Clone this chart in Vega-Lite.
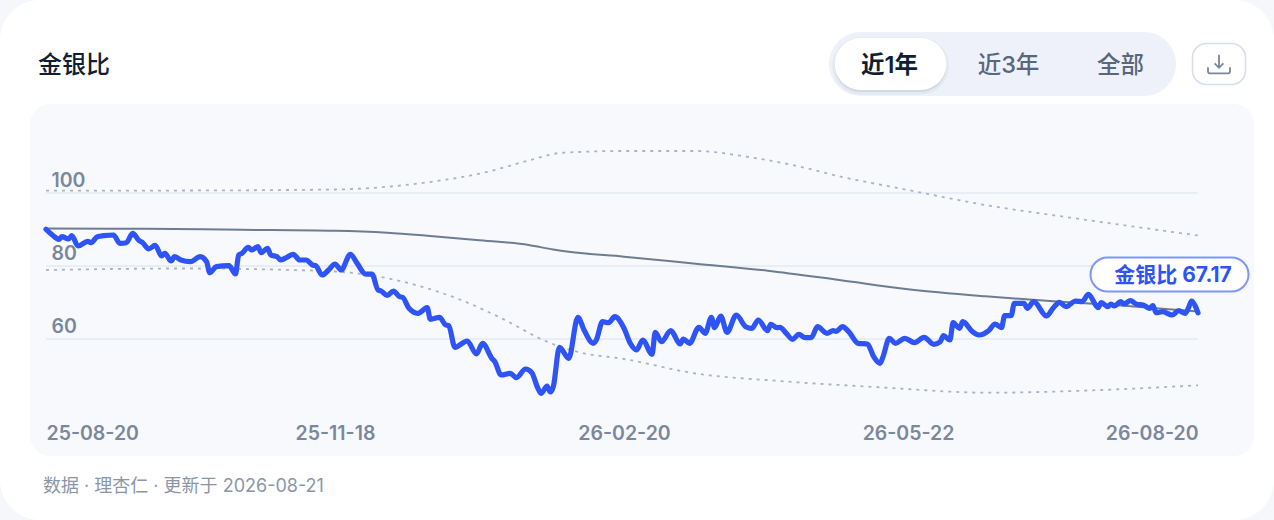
{
  "$schema": "https://vega.github.io/schema/vega-lite/v6.json",
  "width": 1274,
  "height": 520,
  "padding": 0,
  "autosize": {"type": "none"},
  "background": "#f5f7fb",
  "view": {"fill": "#ffffff", "stroke": null, "cornerRadius": 40},
  "config": {"font": "Inter, 'Noto Sans CJK SC'"},
  "datasets": {
    "tabs": [{"tab": "近1年", "active": true}, {"tab": "近3年", "active": false}, {"tab": "全部", "active": false}],
    "levels": [{"level": 100, "from": "2025/08/20", "to": "2026/08/20"}, {"level": 80, "from": "2025/08/20", "to": "2026/08/20"}, {"level": 60, "from": "2025/08/20", "to": "2026/08/20"}],
    "ratio": [
      {"date": "2025/08/20", "value": 90.05}, {"date": "2025/08/22", "value": 88.49}, {"date": "2025/08/24", "value": 87.32}, {"date": "2025/08/25", "value": 88.03},
      {"date": "2025/08/27", "value": 87.4}, {"date": "2025/08/28", "value": 88.3}, {"date": "2025/08/30", "value": 85.48}, {"date": "2025/09/02", "value": 86.77},
      {"date": "2025/09/03", "value": 86.38}, {"date": "2025/09/05", "value": 88.03}, {"date": "2025/09/07", "value": 88.3}, {"date": "2025/09/10", "value": 88.49},
      {"date": "2025/09/12", "value": 86.22}, {"date": "2025/09/14", "value": 86.38}, {"date": "2025/09/16", "value": 88.96}, {"date": "2025/09/18", "value": 86.93},
      {"date": "2025/09/19", "value": 86.49}, {"date": "2025/09/21", "value": 84.66}, {"date": "2025/09/23", "value": 85.67}, {"date": "2025/09/25", "value": 82.74},
      {"date": "2025/09/26", "value": 83.48}, {"date": "2025/09/28", "value": 81.37}, {"date": "2025/09/29", "value": 82.55}, {"date": "2025/10/01", "value": 81.64},
      {"date": "2025/10/04", "value": 81.18}, {"date": "2025/10/07", "value": 82.55}, {"date": "2025/10/09", "value": 81.18}, {"date": "2025/10/10", "value": 78.16},
      {"date": "2025/10/12", "value": 79.81}, {"date": "2025/10/16", "value": 80.08}, {"date": "2025/10/18", "value": 77.81}, {"date": "2025/10/19", "value": 83.01},
      {"date": "2025/10/20", "value": 83.48}, {"date": "2025/10/22", "value": 85.12}, {"date": "2025/10/23", "value": 84.38}, {"date": "2025/10/25", "value": 85.29},
      {"date": "2025/10/26", "value": 83.64}, {"date": "2025/10/28", "value": 84.85}, {"date": "2025/10/29", "value": 83.01}, {"date": "2025/10/31", "value": 82.55},
      {"date": "2025/11/01", "value": 81.64}, {"date": "2025/11/03", "value": 82.38}, {"date": "2025/11/05", "value": 83.21}, {"date": "2025/11/07", "value": 81.64},
      {"date": "2025/11/09", "value": 81.64}, {"date": "2025/11/11", "value": 80.27}, {"date": "2025/11/12", "value": 80.08}, {"date": "2025/11/14", "value": 77.53},
      {"date": "2025/11/16", "value": 78.9}, {"date": "2025/11/18", "value": 80.55}, {"date": "2025/11/20", "value": 78.9}, {"date": "2025/11/23", "value": 83.21},
      {"date": "2025/11/25", "value": 81.01}, {"date": "2025/11/28", "value": 77.75}, {"date": "2025/11/30", "value": 77.75}, {"date": "2025/12/02", "value": 73.42},
      {"date": "2025/12/03", "value": 73.15}, {"date": "2025/12/05", "value": 71.92}, {"date": "2025/12/07", "value": 73.15}, {"date": "2025/12/09", "value": 71.59},
      {"date": "2025/12/10", "value": 71.42}, {"date": "2025/12/12", "value": 68.49}, {"date": "2025/12/15", "value": 67.04}, {"date": "2025/12/18", "value": 68.58},
      {"date": "2025/12/19", "value": 65.4}, {"date": "2025/12/22", "value": 65.95}, {"date": "2025/12/24", "value": 63.84}, {"date": "2025/12/25", "value": 63.64},
      {"date": "2025/12/27", "value": 57.73}, {"date": "2025/12/31", "value": 59.45}, {"date": "2026/01/03", "value": 55.89}, {"date": "2026/01/05", "value": 58.82},
      {"date": "2026/01/08", "value": 54.71}, {"date": "2026/01/09", "value": 53.78}, {"date": "2026/01/11", "value": 50.14}, {"date": "2026/01/14", "value": 50.6},
      {"date": "2026/01/16", "value": 49.4}, {"date": "2026/01/19", "value": 51.78}, {"date": "2026/01/21", "value": 50.77}, {"date": "2026/01/23", "value": 46.49},
      {"date": "2026/01/24", "value": 45.12}, {"date": "2026/01/26", "value": 47.12}, {"date": "2026/01/27", "value": 45.48}, {"date": "2026/01/28", "value": 46.93},
      {"date": "2026/01/30", "value": 57.73}, {"date": "2026/02/02", "value": 54.71}, {"date": "2026/02/05", "value": 65.95}, {"date": "2026/02/07", "value": 62.47},
      {"date": "2026/02/10", "value": 58.82}, {"date": "2026/02/11", "value": 59.73}, {"date": "2026/02/13", "value": 64.74}, {"date": "2026/02/15", "value": 64.47},
      {"date": "2026/02/17", "value": 66.11}, {"date": "2026/02/20", "value": 62.93}, {"date": "2026/02/22", "value": 58.82}, {"date": "2026/02/24", "value": 56.99},
      {"date": "2026/02/26", "value": 59.73}, {"date": "2026/03/01", "value": 55.81}, {"date": "2026/03/02", "value": 61.84}, {"date": "2026/03/04", "value": 59.26},
      {"date": "2026/03/07", "value": 62.27}, {"date": "2026/03/10", "value": 58.63}, {"date": "2026/03/11", "value": 60.0}, {"date": "2026/03/13", "value": 58.82},
      {"date": "2026/03/16", "value": 63.21}, {"date": "2026/03/18", "value": 61.56}, {"date": "2026/03/20", "value": 65.95}, {"date": "2026/03/21", "value": 63.1},
      {"date": "2026/03/23", "value": 66.3}, {"date": "2026/03/25", "value": 61.84}, {"date": "2026/03/28", "value": 66.58}, {"date": "2026/03/31", "value": 63.37},
      {"date": "2026/04/02", "value": 62.93}, {"date": "2026/04/04", "value": 65.21}, {"date": "2026/04/07", "value": 62.27}, {"date": "2026/04/08", "value": 64.03},
      {"date": "2026/04/10", "value": 63.1}, {"date": "2026/04/11", "value": 63.21}, {"date": "2026/04/13", "value": 61.56}, {"date": "2026/04/15", "value": 59.92},
      {"date": "2026/04/17", "value": 61.29}, {"date": "2026/04/19", "value": 60.36}, {"date": "2026/04/21", "value": 60.36}, {"date": "2026/04/23", "value": 63.37},
      {"date": "2026/04/26", "value": 61.56}, {"date": "2026/04/28", "value": 62.27}, {"date": "2026/04/29", "value": 62.11}, {"date": "2026/05/01", "value": 63.37},
      {"date": "2026/05/03", "value": 62.0}, {"date": "2026/05/06", "value": 58.82}, {"date": "2026/05/09", "value": 58.63}, {"date": "2026/05/11", "value": 55.15},
      {"date": "2026/05/13", "value": 53.34}, {"date": "2026/05/14", "value": 55.15}, {"date": "2026/05/16", "value": 60.19}, {"date": "2026/05/18", "value": 58.82},
      {"date": "2026/05/21", "value": 60.19}, {"date": "2026/05/24", "value": 58.99}, {"date": "2026/05/27", "value": 60.47}, {"date": "2026/05/30", "value": 58.55},
      {"date": "2026/06/01", "value": 59.26}, {"date": "2026/06/02", "value": 60.9}, {"date": "2026/06/04", "value": 59.73}, {"date": "2026/06/05", "value": 64.47},
      {"date": "2026/06/07", "value": 62.93}, {"date": "2026/06/08", "value": 64.74}, {"date": "2026/06/11", "value": 62.0}, {"date": "2026/06/13", "value": 61.1},
      {"date": "2026/06/16", "value": 62.27}, {"date": "2026/06/18", "value": 64.11}, {"date": "2026/06/20", "value": 63.1}, {"date": "2026/06/21", "value": 66.38},
      {"date": "2026/06/23", "value": 66.38}, {"date": "2026/06/24", "value": 69.78}, {"date": "2026/06/27", "value": 69.78}, {"date": "2026/06/28", "value": 68.41},
      {"date": "2026/06/30", "value": 70.22}, {"date": "2026/07/04", "value": 66.3}, {"date": "2026/07/06", "value": 68.41}, {"date": "2026/07/08", "value": 70.05},
      {"date": "2026/07/10", "value": 68.85}, {"date": "2026/07/13", "value": 70.41}, {"date": "2026/07/15", "value": 70.22}, {"date": "2026/07/17", "value": 72.25},
      {"date": "2026/07/20", "value": 68.58}, {"date": "2026/07/21", "value": 69.95}, {"date": "2026/07/23", "value": 68.85}, {"date": "2026/07/24", "value": 69.59},
      {"date": "2026/07/25", "value": 69.04}, {"date": "2026/07/27", "value": 70.22}, {"date": "2026/07/28", "value": 69.59}, {"date": "2026/07/30", "value": 70.49},
      {"date": "2026/08/01", "value": 69.51}, {"date": "2026/08/03", "value": 69.32}, {"date": "2026/08/05", "value": 68.41}, {"date": "2026/08/06", "value": 69.12},
      {"date": "2026/08/07", "value": 67.21}, {"date": "2026/08/09", "value": 67.48}, {"date": "2026/08/12", "value": 66.58}, {"date": "2026/08/14", "value": 67.75},
      {"date": "2026/08/16", "value": 67.04}, {"date": "2026/08/17", "value": 68.41}, {"date": "2026/08/18", "value": 70.41}, {"date": "2026/08/19", "value": 69.32},
      {"date": "2026/08/20", "value": 67.17}
    ],
    "average": [
      {"date": "2025/08/20", "value": 90.27}, {"date": "2025/09/20", "value": 90.19}, {"date": "2025/10/20", "value": 89.92}, {"date": "2025/11/18", "value": 89.65},
      {"date": "2025/12/05", "value": 89.11}, {"date": "2025/12/18", "value": 88.3}, {"date": "2026/01/03", "value": 87.12}, {"date": "2026/01/20", "value": 85.75},
      {"date": "2026/01/28", "value": 84.52}, {"date": "2026/02/02", "value": 83.89}, {"date": "2026/02/20", "value": 82.56}, {"date": "2026/03/15", "value": 80.63}, {"date": "2026/04/07", "value": 78.71},
      {"date": "2026/04/30", "value": 76.16}, {"date": "2026/05/22", "value": 73.64}, {"date": "2026/06/15", "value": 71.7}, {"date": "2026/07/05", "value": 70.41},
      {"date": "2026/07/25", "value": 69.32}, {"date": "2026/08/20", "value": 67.53}
    ],
    "upper": [
      {"date": "2025/08/20", "value": 100.63}, {"date": "2025/10/01", "value": 100.68}, {"date": "2025/11/18", "value": 100.96}, {"date": "2025/12/02", "value": 101.51},
      {"date": "2025/12/20", "value": 103.15}, {"date": "2026/01/05", "value": 105.48}, {"date": "2026/01/20", "value": 108.9}, {"date": "2026/01/30", "value": 110.96},
      {"date": "2026/02/05", "value": 111.23}, {"date": "2026/02/20", "value": 111.51}, {"date": "2026/03/15", "value": 111.51}, {"date": "2026/04/01", "value": 109.86},
      {"date": "2026/04/15", "value": 107.67}, {"date": "2026/05/01", "value": 104.38}, {"date": "2026/05/22", "value": 100.82}, {"date": "2026/06/15", "value": 96.71},
      {"date": "2026/07/10", "value": 93.42}, {"date": "2026/08/01", "value": 90.68}, {"date": "2026/08/20", "value": 88.36}
    ],
    "lower": [
      {"date": "2025/08/20", "value": 78.9}, {"date": "2025/10/01", "value": 79.32}, {"date": "2025/11/05", "value": 78.9}, {"date": "2025/11/23", "value": 78.16},
      {"date": "2025/12/02", "value": 77.12}, {"date": "2025/12/13", "value": 75.07}, {"date": "2025/12/29", "value": 70.68}, {"date": "2026/01/11", "value": 65.75},
      {"date": "2026/01/26", "value": 59.26}, {"date": "2026/02/05", "value": 56.44}, {"date": "2026/02/20", "value": 54.52}, {"date": "2026/03/15", "value": 50.55},
      {"date": "2026/04/11", "value": 48.49}, {"date": "2026/05/13", "value": 46.77}, {"date": "2026/06/16", "value": 45.29}, {"date": "2026/07/21", "value": 46.03},
      {"date": "2026/08/20", "value": 47.32}
    ],
    "latest": [{"date": "2026/08/20", "value": 67.17, "label": "金银比 67.17"}]
  },
  "layer": [
    {
      "data": {"values": [{"part": "panel"}]},
      "mark": {"type": "rect", "fill": "#f7f9fd", "cornerRadius": 20},
      "encoding": {
        "x": {"field": "part", "type": "nominal", "axis": null, "scale": {"type": "band", "range": [30, 1254], "paddingInner": 0, "paddingOuter": 0}},
        "y": {"field": "part", "type": "nominal", "axis": null, "scale": {"type": "band", "range": [104, 456], "paddingInner": 0, "paddingOuter": 0}}
      }
    },
    {
      "encoding": {
        "x": {
          "field": "date",
          "type": "temporal",
          "title": null,
          "scale": {
            "domain": {"expr": "[toDate('2025/08/20'), toDate('2025/11/18'), toDate('2026/02/20'), toDate('2026/05/22'), toDate('2026/08/20')]"},
            "range": [46, 335, 624, 908, 1198]
          },
          "axis": {
            "values": ["2025/08/20", "2025/11/18", "2026/02/20", "2026/05/22", "2026/08/20"],
            "format": "%y-%m-%d",
            "grid": false,
            "domain": false,
            "ticks": false,
            "zindex": 1,
            "offset": -87,
            "labelPadding": 0,
            "labelBaseline": "middle",
            "labelFlush": true,
            "labelFontSize": 19.5,
            "labelFontWeight": 600,
            "labelColor": "#7b879b"
          }
        },
        "y": {
          "field": "value",
          "type": "quantitative",
          "title": null,
          "scale": {"domain": [60, 100], "range": [339, 193], "nice": false, "zero": false},
          "axis": {
            "values": [60, 80, 100],
            "grid": false,
            "domain": false,
            "ticks": false,
            "zindex": 1,
            "offset": -51,
            "labelPadding": 0,
            "labelAlign": "left",
            "labelOffset": -13,
            "labelFontSize": 19.5,
            "labelFontWeight": 600,
            "labelColor": "#7b879b"
          }
        }
      },
      "layer": [
        {
          "data": {"name": "levels"},
          "mark": {"type": "rule", "color": "#e9edf4", "strokeWidth": 2},
          "encoding": {
            "x": {"field": "from", "type": "temporal"},
            "x2": {"field": "to"},
            "y": {"field": "level", "type": "quantitative"}
          }
        },
        {
          "data": {"name": "upper"},
          "mark": {"type": "line", "color": "#aab3c5", "strokeWidth": 1.8, "strokeDash": [3, 5], "interpolate": "monotone"}
        },
        {
          "data": {"name": "lower"},
          "mark": {"type": "line", "color": "#aab3c5", "strokeWidth": 1.8, "strokeDash": [3, 5], "interpolate": "monotone"}
        },
        {
          "data": {"name": "average"},
          "mark": {"type": "line", "color": "#6e7c91", "strokeWidth": 2, "interpolate": "monotone"}
        },
        {
          "data": {"name": "ratio"},
          "mark": {"type": "line", "color": "#2f54f5", "strokeWidth": 5.2, "strokeJoin": "round", "strokeCap": "round", "interpolate": "monotone"}
        },
        {
          "data": {"name": "latest"},
          "mark": {"type": "rect", "width": 158, "height": 34, "cornerRadius": 17, "fill": "#ffffff", "stroke": "#7e96f8", "strokeWidth": 2, "xOffset": -28.5, "yOffset": -38.3}
        },
        {
          "data": {"name": "latest"},
          "mark": {"type": "text", "color": "#2f54f5", "fontSize": 21, "fontWeight": 700, "dx": -25, "dy": -37.3},
          "encoding": {"text": {"field": "label"}}
        }
      ]
    },
    {
      "data": {"values": [{"part": "tabs"}]},
      "mark": {"type": "rect", "fill": "#eef1f9", "cornerRadius": 32},
      "encoding": {
        "x": {"field": "part", "type": "nominal", "axis": null, "scale": {"type": "band", "range": [829, 1176], "paddingInner": 0, "paddingOuter": 0}},
        "y": {"field": "part", "type": "nominal", "axis": null, "scale": {"type": "band", "range": [32, 96], "paddingInner": 0, "paddingOuter": 0}}
      }
    },
    {
      "data": {"name": "tabs"},
      "encoding": {
        "x": {"field": "tab", "type": "nominal", "axis": null, "scale": {"type": "band", "domain": ["近1年", "近3年", "全部"], "range": [833, 1178], "paddingInner": 0.03, "paddingOuter": 0.015}},
        "y": {"datum": "row", "type": "nominal", "axis": null, "scale": {"type": "band", "range": [38, 90], "paddingInner": 0, "paddingOuter": 0}}
      },
      "layer": [
        {
          "transform": [{"filter": "datum.active"}],
          "mark": {"type": "rect", "fill": "#8f9bb3", "fillOpacity": 0.2, "stroke": "#8f9bb3", "strokeOpacity": 0.1, "strokeWidth": 5, "cornerRadius": 26, "yOffset": 2}
        },
        {
          "transform": [{"filter": "datum.active"}],
          "mark": {"type": "rect", "fill": "#ffffff", "cornerRadius": 26}
        },
        {
          "transform": [{"filter": "datum.active"}],
          "mark": {"type": "text", "color": "#0f1e33", "fontSize": 23.5, "fontWeight": 600, "dy": 1.5, "dx": -1},
          "encoding": {"text": {"field": "tab"}}
        },
        {
          "transform": [{"filter": "!datum.active"}],
          "mark": {"type": "text", "color": "#58667e", "fontSize": 23.5, "fontWeight": 500, "dy": 1.5, "dx": {"expr": "datum.tab === '近3年' ? 3 : 0"}},
          "encoding": {"text": {"field": "tab"}}
        }
      ]
    },
    {
      "data": {"values": [{"part": "download"}]},
      "encoding": {
        "x": {"field": "part", "type": "nominal", "axis": null, "scale": {"type": "band", "range": [1192.5, 1245.5], "paddingInner": 0, "paddingOuter": 0}},
        "y": {"field": "part", "type": "nominal", "axis": null, "scale": {"type": "band", "range": [43.5, 84.5], "paddingInner": 0, "paddingOuter": 0}}
      },
      "layer": [
        {"mark": {"type": "rect", "fill": "#ffffff", "stroke": "#d9deea", "strokeWidth": 1.6, "cornerRadius": 14}},
        {
          "mark": {
            "type": "point",
            "shape": "M0 -0.85L0 0.35M-0.4 -0.05L0 0.35L0.4 -0.05M-1 0.3L-1 0.65Q-1 0.85 -0.8 0.85L0.8 0.85Q1 0.85 1 0.65L1 0.3",
            "size": 484,
            "filled": false,
            "stroke": "#7a879b",
            "strokeWidth": 1.8,
            "opacity": 1
          }
        }
      ]
    },
    {
      "data": {"values": [{"title": "金银比"}]},
      "mark": {"type": "text", "color": "#0f1e33", "fontSize": 24, "fontWeight": 500},
      "encoding": {
        "text": {"field": "title"},
        "x": {"field": "title", "type": "nominal", "axis": null, "scale": {"type": "band", "range": [38, 110], "paddingInner": 0, "paddingOuter": 0}},
        "y": {"field": "title", "type": "nominal", "axis": null, "scale": {"type": "band", "range": [47, 85], "paddingInner": 0, "paddingOuter": 0}}
      }
    },
    {
      "data": {"values": [{"note": "数据 · 理杏仁 · 更新于 2026-08-21"}]},
      "mark": {"type": "text", "color": "#8a96a8", "fontSize": 18, "align": "left"},
      "encoding": {
        "text": {"field": "note"},
        "x": {"field": "note", "type": "nominal", "axis": null, "bandPosition": 0, "scale": {"type": "band", "range": [43, 369], "paddingInner": 0, "paddingOuter": 0}},
        "y": {"field": "note", "type": "nominal", "axis": null, "scale": {"type": "band", "range": [472, 502], "paddingInner": 0, "paddingOuter": 0}}
      }
    }
  ],
  "resolve": {"scale": {"x": "independent", "y": "independent"}}
}
